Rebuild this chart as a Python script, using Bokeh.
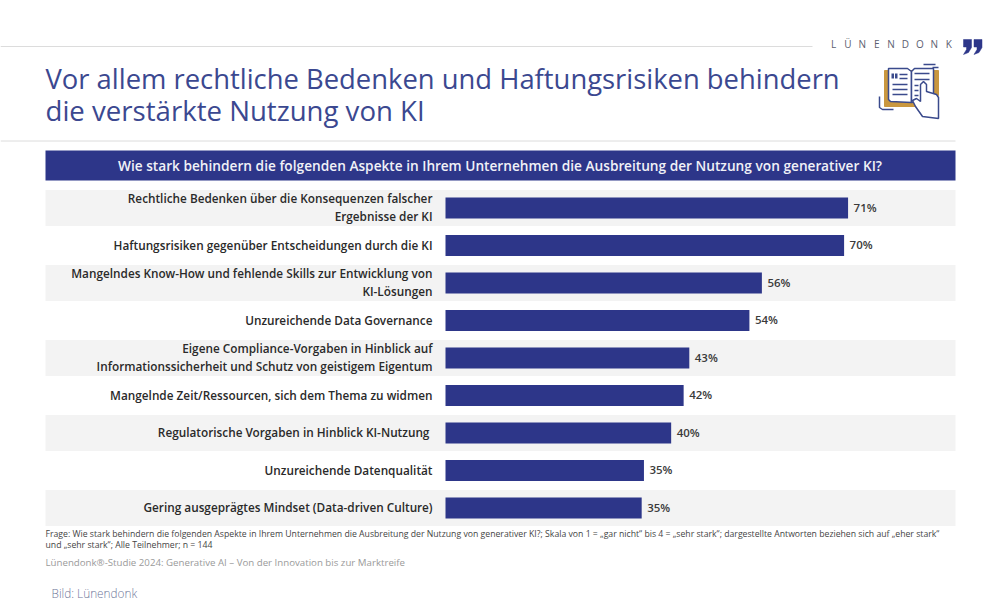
from bokeh.plotting import figure
from bokeh.models import Range1d
from bokeh.core.properties import value
from bokeh.embed import file_html
from bokeh.resources import INLINE

categories = [
    "Rechtliche Bedenken über die Konsequenzen falscher\nErgebnisse der KI",
    "Haftungsrisiken gegenüber Entscheidungen durch die KI",
    "Mangelndes Know-How und fehlende Skills zur Entwicklung von\nKI-Lösungen",
    "Unzureichende Data Governance",
    "Eigene Compliance-Vorgaben in Hinblick auf\nInformationssicherheit und Schutz von geistigem Eigentum",
    "Mangelnde Zeit/Ressourcen, sich dem Thema zu widmen",
    "Regulatorische Vorgaben in Hinblick KI-Nutzung ",
    "Unzureichende Datenqualität",
    "Gering ausgeprägtes Mindset (Data-driven Culture)",
]
values = [71, 70.3, 55.8, 53.6, 43, 42, 39.8, 35, 34.6]
value_labels = ["71%", "70%", "56%", "54%", "43%", "42%", "40%", "35%", "35%"]

title_lines = ["Vor allem rechtliche Bedenken und Haftungsrisiken behindern",
               "die verstärkte Nutzung von KI"]
header = "Wie stark behindern die folgenden Aspekte in Ihrem Unternehmen die Ausbreitung der Nutzung von generativer KI?"
note_lines = ["Frage: Wie stark behindern die folgenden Aspekte in Ihrem Unternehmen die Ausbreitung der Nutzung von generativer KI?; Skala von 1 = „gar nicht“ bis 4 = „sehr stark“; dargestellte Antworten beziehen sich auf „eher stark“",
              "und „sehr stark“; Alle Teilnehmer; n = 144"]
source = "Lünendonk®-Studie 2024: Generative AI – Von der Innovation bis zur Marktreife"
credit = "Bild: Lünendonk"
brand = "LÜNENDONK"

BLUE = "#2d3689"
FONT = value("Open Sans")
SEMI = value("Open Sans SemiBold")
LIGHT = value("Open Sans Light")
W, H = 1000, 600
PX_PER_PCT = 5.67
X0, ROW0, ROW = 445, 207.5, 37.5

p = figure(width=W, height=H, output_backend="svg", toolbar_location=None,
           x_range=Range1d(-X0 / PX_PER_PCT, (W - X0) / PX_PER_PCT),
           y_range=Range1d((H - ROW0) / ROW, -ROW0 / ROW),
           min_border=0, outline_line_color=None, background_fill_color="white",
           margin=0)
p.axis.visible = False
p.grid.visible = False
p.extra_x_ranges["px"] = Range1d(0, W)
p.extra_y_ranges["px"] = Range1d(H, 0)
PX = dict(x_range_name="px", y_range_name="px")

def txt(x, y, s, size, color, align="left", style="normal", font=FONT):
    p.text(x=[x], y=[y], text=[s], text_font=font, text_font_size=f"{size}px",
           text_color=color, text_align=align, text_baseline="middle",
           text_font_style=style, **PX)

# rules
p.line([0, 812], [46, 46], line_color="#dcdcdc", line_width=1, **PX)
p.line([0, 955], [140.5, 140.5], line_color="#dcdcdc", line_width=1, **PX)

# title
txt(45, 78, title_lines[0], 27.4, "#3b4890")
txt(45, 109.5, title_lines[1], 27.6, "#3b4890")

# brand
for i, ch in enumerate(brand):
    txt(833 + i * 14.4, 43, ch, 10, "#5c6070", align="center")
for dx in (0, 10.5):
    p.patch([963 + dx, 971 + dx, 971 + dx, 968 + dx, 963 + dx, 966 + dx, 966 + dx, 963 + dx],
            [39, 39, 47, 52, 54, 49, 46.5, 46.5], fill_color=BLUE, line_color=BLUE, line_width=0.5, **PX)

# book icon
GOLD, INK = "#c9973f", "#3a4a8c"
p.patch([884, 938, 938, 933, 933, 884], [70, 70, 95, 95, 106, 106], fill_color=GOLD, line_color=GOLD, **PX)
p.patch([888, 907, 911, 911, 890, 888], [68, 68, 71, 102, 101, 99], fill_color="white", line_color=INK, line_width=1.5, **PX)
p.patch([911, 914, 933, 933, 911], [71, 68, 68, 99, 102], fill_color="white", line_color=INK, line_width=1.5, **PX)
p.quad(left=[891, 894.5], right=[893.5, 897], top=[73, 73], bottom=[78, 78], fill_color=INK, line_color=None, **PX)
for y, x0, x1 in [(74, 899, 907), (78, 899, 907), (84, 892, 907), (89, 892, 907), (94, 892, 907),
                  (73, 914, 929), (79, 914, 929), (85, 914, 918), (90, 914, 918), (95, 914, 918)]:
    p.line([x0, x1], [y, y], line_color=INK, line_width=1.5, **PX)
p.line([879, 879, 882, 893], [96, 107, 109, 109], line_color=INK, line_width=1.5, **PX)
p.line([923, 935], [64, 64], line_color=INK, line_width=1.5, **PX)
p.line([932, 938], [67, 67], line_color=INK, line_width=1.5, **PX)
p.patch([920, 920, 923, 926, 926, 936, 938, 938, 922, 915, 912, 916, 920],
        [101, 84, 81, 84, 91, 94, 97, 118, 116, 106, 100, 98, 101],
        fill_color="white", line_color=INK, line_width=1.5, **PX)

# header band
p.quad(left=[45], right=[955], top=[150], bottom=[180], fill_color=BLUE, line_color=None, **PX)
txt(499.5, 164.5, header, 13.7, "#f0f1f7", align="center", font=SEMI)

# rows
idx = list(range(len(categories)))
stripes = [i for i in idx if i % 2 == 0]
p.hbar(y=stripes, left=45, right=955, height=0.96, fill_color="#f3f3f3", line_color=None, x_range_name="px")
p.hbar(y=idx, left=0, right=values, height=0.56, fill_color=BLUE, line_color=None)

lx, ly, lt, lo = [], [], [], []
for i, c in enumerate(categories):
    parts = c.split("\n")
    for j, part in enumerate(parts):
        lx.append(0)
        ly.append(i)
        lt.append(part)
        lo.append((j - (len(parts) - 1) / 2) * 17.5 - 1)
p.text(x=lx, y=ly, text=lt, x_offset=-13, y_offset=lo, text_align="right", text_baseline="middle",
       text_font=SEMI, text_font_size="11.8px", text_color="#2a2a2a")
p.text(x=values, y=idx, text=value_labels, x_offset=5.5, y_offset=-1, text_align="left", text_baseline="middle",
       text_font=SEMI, text_font_size="11.5px", text_color="#3a3a3a")

# footer
txt(45, 533, note_lines[0], 8.7, "#444444")
txt(45, 544, note_lines[1], 8.7, "#444444")
txt(45, 562, source, 9.7, "#9a9a9a")
txt(51, 592, credit, 11.8, "#6e7699", font=LIGHT)

open("out.html", "w").write(file_html(p, INLINE))
